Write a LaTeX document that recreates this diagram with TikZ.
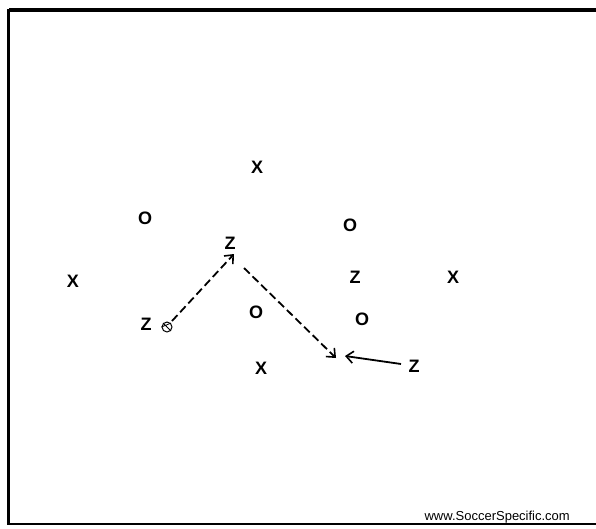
\documentclass[tikz,border=0pt]{standalone}
\usepackage{fontspec}
\setmainfont{Liberation Sans}
\usetikzlibrary{arrows.meta}
\begin{document}
\begin{tikzpicture}[x=1pt,y=-1pt,
  player/.style={font=\bfseries\fontsize{18}{18}\selectfont, inner sep=0pt},
  run/.style={line width=1.8pt, dash pattern=on 8pt off 4pt, -{Straight Barb[length=7pt,width=12pt,line width=1.6pt]}},
  pass/.style={line width=1.8pt, -{Straight Barb[length=7pt,width=12pt,line width=1.6pt]}}]
\useasboundingbox (0,0) rectangle (596,528);
% frame
\draw[line width=3.5pt] (9,10) -- (600,10);
\draw[line width=3.5pt] (8.5,9) -- (8.5,525);
\draw[line width=1.8pt] (8,524) -- (600,524);
% players
\node[player] (x1) at (257,167) {X};
\node[player] (x2) at (73,281) {X};
\node[player] (x3) at (453,277) {X};
\node[player] (x4) at (261,368) {X};
\node[player] (o1) at (145,218) {O};
\node[player] (o2) at (350,225) {O};
\node[player] (o3) at (256,312) {O};
\node[player] (o4) at (362,319) {O};
\node[player] (z1) at (230,243) {Z};
\node[player] (z2) at (355,277) {Z};
\node[player] (z3) at (146,324) {Z};
\node[player] (z4) at (414,366) {Z};
% ball
\node[draw, circle, line width=1pt, minimum size=10pt, inner sep=0pt] (ball) at (167,327) {};
\draw[line width=0.8pt] (ball.north west) -- (ball.south east) (ball.west) -- (ball.north east);
% arrows
\coordinate (a1s) at (172,321);
\coordinate (a1e) at (234,254);
\coordinate (a2s) at (244,268);
\coordinate (a2e) at (336,358);
\coordinate (a3s) at (401,364);
\coordinate (a3e) at (345,356);
\draw[run] (a1s) -- (a1e);
\draw[run] (a2s) -- (a2e);
\draw[pass] (a3s) -- (a3e);
% credit
\node[anchor=base east, font=\fontsize{13}{13}\selectfont, inner sep=0pt] (web) at (570,520) {www.SoccerSpecific.com};
\end{tikzpicture}
\end{document}
